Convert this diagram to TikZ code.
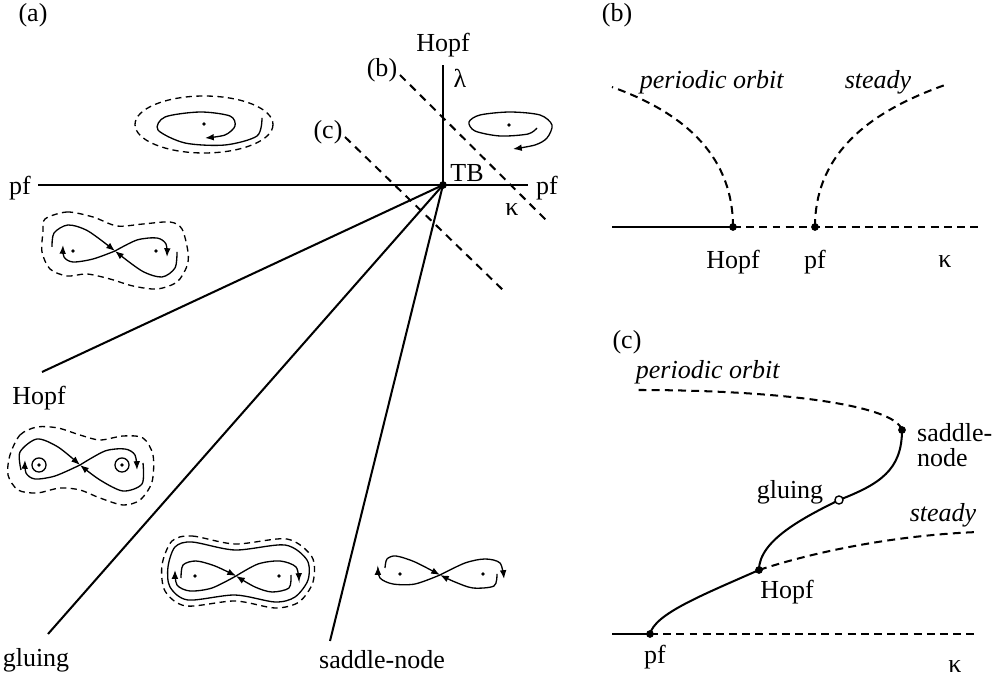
\documentclass[tikz,border=0pt]{standalone}
\usepackage{fontspec}
\setmainfont{Liberation Serif}
\usetikzlibrary{arrows.meta}

\begin{document}
\begin{tikzpicture}[x=0.2mm, y=-0.2mm, font=\fontsize{14.8}{14.2}\selectfont,
    bif/.style={line width=1.15pt},
    unst/.style={line width=1.15pt, dash pattern=on 4.5pt off 3pt},
    cutline/.style={line width=1.15pt, dash pattern=on 4.5pt off 3.5pt},
    flow/.style={line width=0.75pt},
    cyc/.style={line width=0.75pt, dash pattern=on 3.5pt off 2.5pt},
    arr/.style={-{Latex[length=5pt,width=3.8pt]}}]
    \useasboundingbox (0,0) rectangle (995,681);

    % (a) parameter plane
    \coordinate (TB) at (443,185);
    \coordinate (lamTop) at (443,65);
    \coordinate (pfL) at (38,185);
    \coordinate (pfR) at (528,185);
    \coordinate (hopfEnd) at (42,372);
    \coordinate (glueEnd) at (48,634);
    \coordinate (snEnd) at (330,641);
    \coordinate (bTop) at (400,75);
    \coordinate (bBot) at (548,222);
    \coordinate (cTop) at (345,137);
    \coordinate (cBot) at (505,292);
    \draw[bif] (pfL) -- (pfR);
    \draw[bif] (TB) -- (lamTop);
    \draw[bif] (TB) -- (hopfEnd);
    \draw[bif] (TB) -- (glueEnd);
    \draw[bif] (TB) -- (snEnd);
    \draw[cutline] (bTop) -- (bBot);
    \draw[cutline] (cTop) -- (cBot);
    \fill (TB) circle (2.2pt);

    \node (la) at (33,15) {(a)};
    \node (lHopfTop) at (443,45) {Hopf};
    \node (llam) at (460,78) {λ};
    \node (lTB) at (467,173) {TB};
    \node (lpfR) at (547,188) {pf};
    \node (lkapA) at (512,210) {κ};
    \node (lpfL) at (20,188) {pf};
    \node (lb) at (382,70) {(b)};
    \node (lc) at (328,132) {(c)};
    \node (lHopf) at (39,398) {Hopf};
    \node (lglue) at (36,660) {gluing};
    \node (lsn) at (382,660) {saddle-node};

    % spirals
    \draw[cyc] (204,124.5) ellipse (69 and 28.5);
    \draw[flow, arr] plot[smooth] coordinates {(262,118) (257,136) (225,145) (185,143) (158,130) (165,117) (200,112) (230,116) (235,126) (225,135) (205,138)};
    \draw[flow, arr] plot[smooth] coordinates {(537,128) (528,134) (500,136) (475,131) (469,122) (480,115) (510,112) (540,115) (552,125) (547,138) (535,145) (513,149)};
    \foreach \p in {(204,124),(509,125)} {\fill \p circle (1.1pt);}

    % figure eight, below pf
    \draw[cyc] plot[smooth cycle] coordinates {(45,219) (67,212) (93,217) (117,226) (143,224) (170,222) (182,229) (188,252) (187,266) (177,282) (157,289) (133,286) (110,279) (87,274) (67,276) (50,269) (42,252) (43,232)};
    \draw[flow, arr] plot[smooth] coordinates {(52,247) (54,233) (68,225) (88,231) (115,251)};
    \draw[flow, arr] plot[smooth] coordinates {(115,251) (93,259) (73,262) (64,257) (63,245)};
    \draw[flow, arr] plot[smooth] coordinates {(115,251) (137,240) (157,238) (166,244) (167,257)};
    \draw[flow, arr] plot[smooth] coordinates {(177,252) (175,268) (162,277) (142,271) (115,251)};
    \foreach \p in {(73,251),(156,251)} {\fill \p circle (1.1pt);}

    % figure eight, below Hopf
    \draw[cyc] plot[smooth cycle] coordinates {(10,455) (20,435) (37,427) (58,428) (80,435) (100,440) (123,436) (143,438) (153,455) (152,482) (140,500) (123,505) (100,498) (80,490) (60,488) (37,493) (18,490) (8,475)};
    \draw[flow, arr] plot[smooth] coordinates {(21,470) (20,452) (37,439) (58,447) (80,465)};
    \draw[flow, arr] plot[smooth] coordinates {(80,465) (55,476) (35,479) (26,473) (25,460)};
    \draw[flow, arr] plot[smooth] coordinates {(80,465) (105,451) (125,449) (135,455) (137,470)};
    \draw[flow, arr] plot[smooth] coordinates {(143,463) (142,484) (123,491) (100,480) (80,465)};
    \foreach \p in {(39,465),(122,465)} {\fill \p circle (1.1pt); \draw[flow] \p circle (4pt);}

    % figure eight, below gluing
    \draw[cyc] plot[smooth cycle] coordinates {(172,541) (192,536) (235,544) (287,539) (312,557) (313,582) (299,602) (275,608) (235,601) (186,606) (165,591) (162,565)};
    \draw[flow] plot[smooth cycle] coordinates {(175,547) (192,542) (235,550) (285,545) (307,560) (308,580) (295,597) (275,602) (235,595) (188,600) (170,587) (168,567)};
    \draw[flow, arr] plot[smooth] coordinates {(181,578) (183,565) (196,561) (215,566) (236,576)};
    \draw[flow, arr] plot[smooth] coordinates {(236,576) (212,588) (190,591) (177,585) (175,570)};
    \draw[flow, arr] plot[smooth] coordinates {(236,576) (258,564) (280,561) (296,567) (299,582)};
    \draw[flow, arr] plot[smooth] coordinates {(291,575) (289,588) (272,592) (255,587) (236,576)};
    \foreach \p in {(195,576),(279,576)} {\fill \p circle (1.1pt);}

    % figure eight, below saddle-node
    \draw[flow, arr] plot[smooth] coordinates {(385,568) (387,559) (396,556) (415,562) (440,575)};
    \draw[flow, arr] plot[smooth] coordinates {(440,575) (415,584) (393,584) (380,578) (378,566)};
    \draw[flow, arr] plot[smooth] coordinates {(440,575) (465,563) (485,559) (500,563) (504,579)};
    \draw[flow, arr] plot[smooth] coordinates {(497,574) (494,586) (473,588) (455,582) (440,575)};
    \foreach \p in {(400,574),(483,574)} {\fill \p circle (1.1pt);}

    % (b)
    \coordinate (bH) at (733,227);
    \coordinate (bP) at (815,227);
    \coordinate (bL) at (612,227);
    \coordinate (bR) at (978,227);
    \coordinate (bPO) at (612,87);
    \coordinate (bST) at (945,85);
    \draw[bif] (bL) -- (bH);
    \draw[unst] (bH) -- (bR);
    \draw[unst] (bH) .. controls (733,160) and (690,115) .. (bPO);
    \draw[unst] (bP) .. controls (815,160) and (860,115) .. (bST);
    \node (lbb) at (617,15) {(b)};
    \node (lbPO) at (712,82) {\textit{periodic orbit}};
    \node (lbST) at (878,82) {\textit{steady}};
    \node (lbH) at (733,262) {Hopf};
    \node (lbP) at (815,262) {pf};
    \node (lbK) at (945,262) {κ};

    % (c)
    \coordinate (cP) at (650,634);
    \coordinate (cH) at (759,570);
    \coordinate (cG) at (839,500);
    \coordinate (cSN) at (902,430);
    \coordinate (cL) at (612,634);
    \coordinate (cR) at (977,634);
    \coordinate (cPO) at (637,390);
    \coordinate (cST) at (978,532);
    \draw[bif] (cL) -- (cP);
    \draw[unst] (cP) -- (cR);
    \draw[bif] (cP) .. controls (655,614) and (700,596) .. (cH)
        .. controls (759,540) and (805,517) .. (cG)
        .. controls (880,484) and (902,470) .. (cSN);
    \draw[unst] (cSN) .. controls (895,405) and (780,390) .. (cPO);
    \draw[unst] (cH) .. controls (820,550) and (900,535) .. (cST);
    \foreach \p in {bH,bP,cP,cH,cSN} {\fill (\p) circle (2.2pt);}
    \filldraw[fill=white, line width=0.8pt] (cG) circle (2.3pt);
    \node (lcc) at (627,342) {(c)};
    \node (lcPO) at (708,372) {\textit{periodic orbit}};
    \node (lcST) at (943,515) {\textit{steady}};
    \node (lcG) at (790,492) {gluing};
    \node (lcH) at (787,592) {Hopf};
    \node (lcP) at (655,657) {pf};
    \node (lcK) at (955,667) {κ};
    \node[align=left, anchor=west] (lcSN) at (911,445) {saddle-\\node};
\end{tikzpicture}
\end{document}
